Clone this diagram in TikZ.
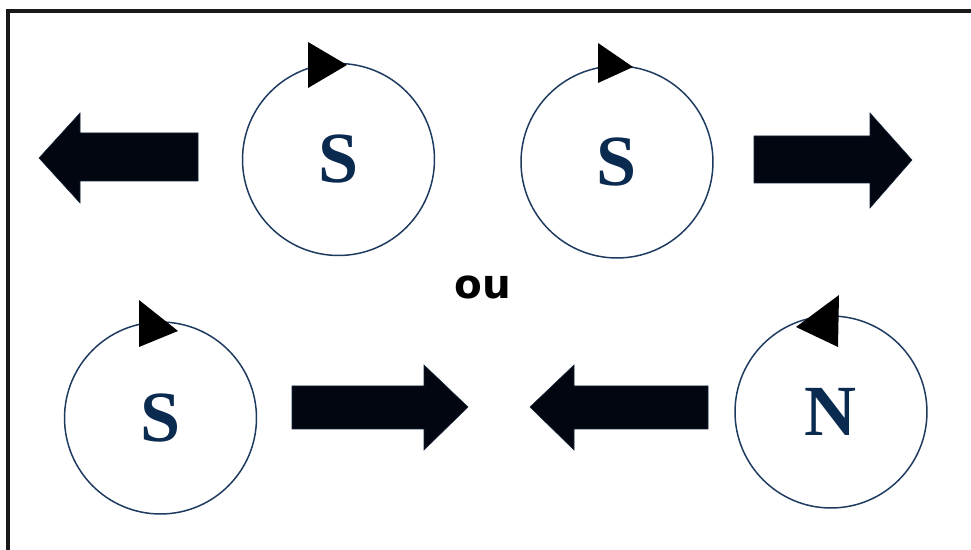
\documentclass[tikz,border=0pt]{standalone}
\usepackage{fontspec}
\setmainfont{Liberation Serif}
\newfontfamily\labelfont{DejaVu Sans}
\definecolor{pole}{RGB}{10,42,80}
\definecolor{ring}{RGB}{30,58,95}
\definecolor{blockfill}{RGB}{2,6,16}
\tikzset{
  magnet/.style={circle, draw=ring, line width=0.85pt, minimum size=3.84cm, inner sep=0pt,
                 font=\fontsize{41}{41}\selectfont\bfseries, text=pole},
  spin/.style={fill=black, draw=none},
  push/.style={fill=blockfill, draw=ring!60!black, line width=0.3pt},
  frameline/.style={line width=2pt, draw=black!90}
}
\begin{document}
\begin{tikzpicture}[x=0.02cm, y=-0.02cm]
  \useasboundingbox (0,0) rectangle (971,550);
  % frame (top and left edges)
  \draw[frameline] (8,550) -- (8,11) -- (971,11);

  % rotating poles
  \node[magnet] (m1) at (338.5,159.5) {S};
  \node[magnet] (m2) at (617,162) {S};
  \node[magnet] (m3) at (160.5,418) {S};
  \node[magnet] (m4) at (831,412) {N};

  % sense of rotation
  \fill[spin] (308,42) -- (308,88) -- (347,65) -- cycle;
  \fill[spin] (598,43) -- (598,83) -- (633,67) -- cycle;
  \fill[spin] (139,300) -- (139,347) -- (178,331) -- cycle;
  \fill[spin] (839,295) -- (838,347) -- (796,327) -- cycle;

  % block arrows
  \filldraw[push] (198,133) -- (80,133) -- (80,113) -- (39,158) -- (80,203) -- (80,181) -- (198,181) -- cycle;
  \filldraw[push] (754,136) -- (870,136) -- (870,113) -- (912,160) -- (870,208) -- (870,183) -- (754,183) -- cycle;
  \filldraw[push] (292,386) -- (424,386) -- (424,365) -- (468,407) -- (424,450) -- (424,429) -- (292,429) -- cycle;
  \filldraw[push] (708,386) -- (574,386) -- (574,365) -- (530,407) -- (574,450) -- (574,429) -- (708,429) -- cycle;

  \node[font=\labelfont\fontsize{23}{23}\selectfont\bfseries] (ou) at (483,287) {ou};
\end{tikzpicture}
\end{document}
